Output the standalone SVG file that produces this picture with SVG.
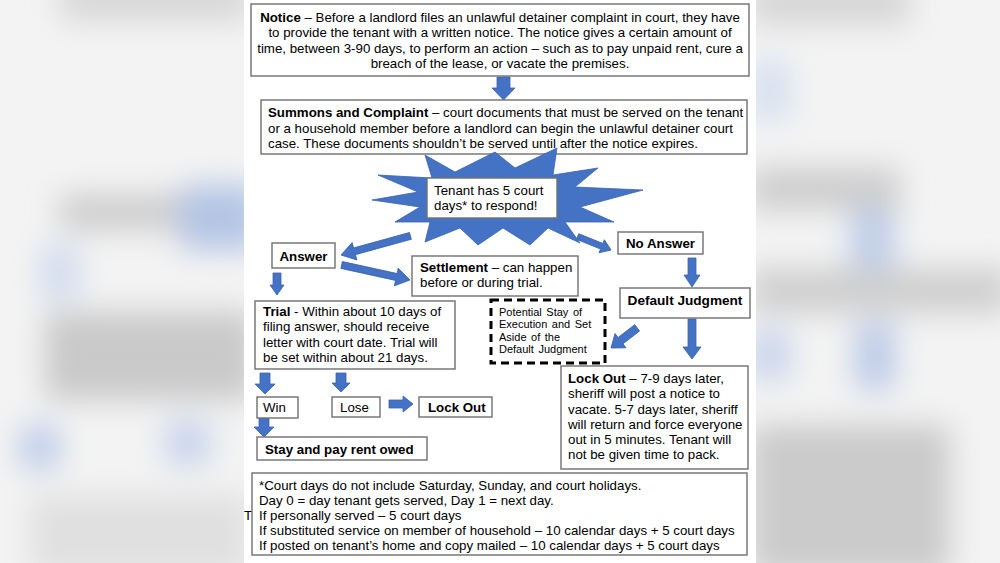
<svg xmlns="http://www.w3.org/2000/svg" width="1000" height="563" viewBox="0 0 1000 563">
<style>
.box{fill:#fff;stroke:#6f6f6f;stroke-width:1.4}
.dash{fill:#fff;stroke:#000;stroke-width:3;stroke-dasharray:8,5}
.arr{fill:#4472C4;stroke:#3a63ad;stroke-width:0.8}
text{font-family:"Liberation Sans",Arial,sans-serif;font-size:13.3px;fill:#000}
.b{font-weight:bold}
.sm{font-size:11px;word-spacing:1.5px}
</style>
<defs>
<filter id="blur" x="-20%" y="-20%" width="140%" height="140%"><feGaussianBlur stdDeviation="15"/></filter>
</defs>
<g id="background">
<rect x="0" y="0" width="1000" height="563" fill="#f3f3f3"/>
<g filter="url(#blur)">
<rect x="60" y="-20" width="190" height="40" fill="#d6d6d6"/>
<rect x="60" y="195" width="130" height="35" fill="#cccccc"/>
<rect x="180" y="185" width="80" height="65" fill="#b4c5e4"/>
<rect x="40" y="245" width="40" height="55" fill="#d2ddef"/>
<rect x="45" y="312" width="210" height="88" fill="#c9c9c9"/>
<rect x="20" y="425" width="40" height="45" fill="#bfcee9"/>
<rect x="165" y="420" width="45" height="45" fill="#c8d4eb"/>
<rect x="30" y="495" width="220" height="80" fill="#e0e0e0"/>
<rect x="750" y="-20" width="160" height="45" fill="#d6d6d6"/>
<rect x="750" y="60" width="40" height="60" fill="#d5e0f0"/>
<rect x="750" y="168" width="150" height="42" fill="#cdcdcd"/>
<rect x="850" y="210" width="45" height="60" fill="#bfcee9"/>
<rect x="750" y="268" width="260" height="45" fill="#cfcfcf"/>
<rect x="750" y="330" width="40" height="50" fill="#c8d4eb"/>
<rect x="855" y="322" width="40" height="68" fill="#bccbe8"/>
<rect x="750" y="425" width="200" height="150" fill="#cbcbcb"/>
</g>
<rect x="244" y="0" width="512" height="563" fill="#ffffff"/>
</g>
<g id="connectors">
<polygon class="arr" points="497,77 510,77 510,88 515,88 503.5,100 492,88 497,88"/>
<polygon class="arr" transform="translate(341,255) rotate(164.6)" points="-72,-3.5 -14,-3.5 -14,-9 0,0 -14,9 -14,3.5 -72,3.5"/>
<polygon class="arr" transform="translate(410,280) rotate(12.4)" points="-70,-3.5 -14,-3.5 -14,-9 0,0 -14,9 -14,3.5 -70,3.5"/>
<polygon class="arr" transform="translate(611,250) rotate(22)" points="-36,-3 -10,-3 -10,-7 0,0 -10,7 -10,3 -36,3"/>
<polygon class="arr" points="273,273 281,273 281,285 284,285 277,295 270,285 273,285"/>
<polygon class="arr" points="688,258 696,258 696,275 700,275 692,287 684,275 688,275"/>
<polygon class="arr" transform="translate(611,348) rotate(142.4)" points="-33,-4 -12,-4 -12,-9 0,0 -12,9 -12,4 -33,4"/>
<polygon class="arr" points="688,319 696,319 696,347 701,347 692,359 683,347 688,347"/>
<polygon class="arr" points="260,373 270,373 270,384 275,384 265,394 255,384 260,384"/>
<polygon class="arr" points="336,373 346,373 346,383 350,383 341,392 332,383 336,383"/>
<polygon class="arr" points="389,400 403,400 403,396 413,404 403,412 403,408 389,408"/>
<polygon class="arr" points="259,418 269,418 269,427 274,427 264,437 254,427 259,427"/>
</g>
<g id="notice">
<rect class="box" x="251" y="4" width="498" height="72"/>
<text x="500" y="22" text-anchor="middle"><tspan class="b">Notice</tspan> – Before a landlord files an unlawful detainer complaint in court, they have</text>
<text x="500" y="37.3" text-anchor="middle">to provide the tenant with a written notice. The notice gives a certain amount of</text>
<text x="500" y="52.6" text-anchor="middle">time, between 3-90 days, to perform an action – such as to pay unpaid rent, cure a</text>
<text x="500" y="67.9" text-anchor="middle">breach of the lease, or vacate the premises.</text>
</g>
<g id="summons">
<rect class="box" x="261" y="100" width="486" height="54"/>
<text x="268" y="117.3"><tspan class="b">Summons and Complaint</tspan> – court documents that must be served on the tenant</text>
<text x="268" y="132.6">or a household member before a landlord can begin the unlawful detainer court</text>
<text x="268" y="147.8">case. These documents shouldn’t be served until after the notice expires.</text>
</g>
<g id="tenant">
<polygon fill="#4472C4" stroke="#3a63ad" stroke-width="0.8" points="425,155 455,172 495,152 515,168 557,148 553,175 598,168 575,187 643,190 580,207 614,222 565,222 580,243 548,228 530,245 503,228 478,245 460,228 425,242 430,222 395,222 420,207 372,200 418,192 378,175 432,178"/>
<rect class="box" x="427" y="178" width="130" height="40"/>
<text x="434" y="194.5">Tenant has 5 court</text>
<text x="434" y="210">days* to respond!</text>
</g>
<g id="answer">
<rect class="box" x="272" y="243" width="63" height="25"/>
<text class="b" x="303.5" y="260.5" text-anchor="middle">Answer</text>
</g>
<g id="settlement">
<rect class="box" x="412" y="256" width="166" height="40"/>
<text x="420" y="271.7"><tspan class="b">Settlement</tspan> – can happen</text>
<text x="420" y="286.9">before or during trial.</text>
</g>
<g id="no-answer">
<rect class="box" x="618" y="232" width="85" height="22"/>
<text class="b" x="660.5" y="248" text-anchor="middle">No Answer</text>
</g>
<g id="default-judgment">
<rect class="box" x="620" y="288" width="130" height="30"/>
<text class="b" x="685" y="304.5" text-anchor="middle" style="font-size:13.6px">Default Judgment</text>
</g>
<g id="trial">
<rect class="box" x="255" y="301" width="200" height="68"/>
<text x="263" y="315.8"><tspan class="b">Trial</tspan> - Within about 10 days of</text>
<text x="263" y="331.2">filing answer, should receive</text>
<text x="263" y="346.6">letter with court date. Trial will</text>
<text x="263" y="362">be set within about 21 days.</text>
</g>
<g id="stay-of-execution">
<rect class="dash" x="491" y="300" width="114" height="63"/>
<text class="sm" x="499" y="315.8">Potential Stay of</text>
<text class="sm" x="499" y="328.2">Execution and Set</text>
<text class="sm" x="499" y="340.6">Aside of the</text>
<text class="sm" x="499" y="353.2">Default Judgment</text>
</g>
<g id="lock-out-detail">
<rect class="box" x="561" y="366" width="187" height="103"/>
<text x="568" y="383.3"><tspan class="b">Lock Out</tspan> – 7-9 days later,</text>
<text x="568" y="398.4">sheriff will post a notice to</text>
<text x="568" y="413.5">vacate. 5-7 days later, sheriff</text>
<text x="568" y="428.6">will return and force everyone</text>
<text x="568" y="443.7">out in 5 minutes. Tenant will</text>
<text x="568" y="458.8">not be given time to pack.</text>
</g>
<g id="win">
<rect class="box" x="257" y="397" width="41" height="21"/>
<text x="263" y="412">Win</text>
</g>
<g id="lose">
<rect class="box" x="332" y="397" width="48" height="20"/>
<text x="340" y="412">Lose</text>
</g>
<g id="lock-out">
<rect class="box" x="419" y="397" width="73" height="20"/>
<text class="b" x="428" y="412">Lock Out</text>
</g>
<g id="stay">
<rect class="box" x="257" y="437" width="170" height="23"/>
<text class="b" x="265" y="453.5">Stay and pay rent owed</text>
</g>
<g id="footnote">
<text x="244" y="520">T</text>
<rect class="box" x="252" y="473" width="495" height="82"/>
<text x="259" y="490">*Court days do not include Saturday, Sunday, and court holidays.</text>
<text x="259" y="505">Day 0 = day tenant gets served, Day 1 = next day.</text>
<text x="259" y="520">If personally served – 5 court days</text>
<text x="259" y="535">If substituted service on member of household – 10 calendar days + 5 court days</text>
<text x="259" y="550">If posted on tenant’s home and copy mailed – 10 calendar days + 5 court days</text>
</g>
</svg>
